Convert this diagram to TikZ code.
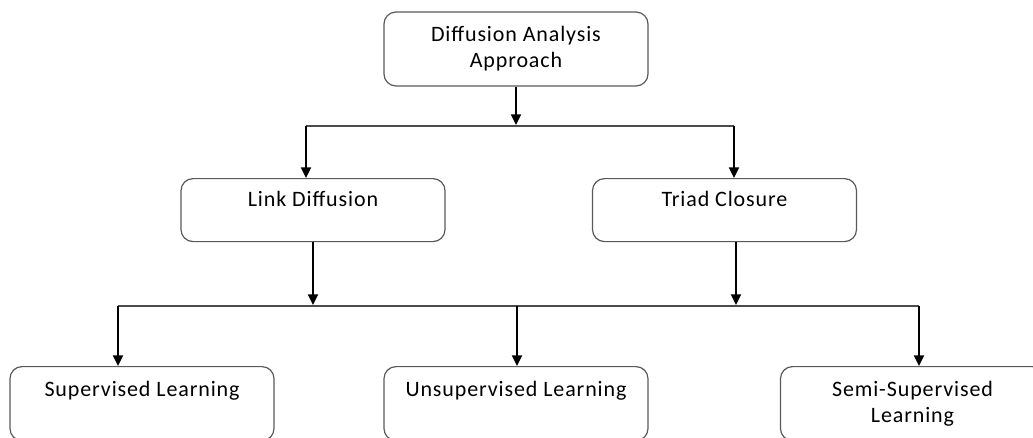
\documentclass[tikz,border=0pt]{standalone}
\usepackage{fontspec}
\setmainfont{Carlito}[LetterSpace=4]
\usetikzlibrary{arrows.meta}

\begin{document}
\begin{tikzpicture}[x=0.75pt, y=-0.75pt,
  box/.style={draw=black!65, line width=0.9pt, rounded corners=9pt, minimum width=198pt, inner sep=0pt, font=\fontsize{16.5}{19.5}\selectfont},
  midbox/.style={box, text height=21pt, text depth=26.25pt},
  lowbox/.style={box, text height=22.5pt, text depth=33pt},
  bus/.style={draw=black!70, line width=1.1pt},
  arr/.style={black, line width=1.4pt, -{Triangle[width=7.5pt,length=8pt]}}]
\useasboundingbox (0,0) rectangle (1033,437);
\clip (0,0) rectangle (1033,437);

\node[box, align=center, minimum height=55.5pt] (dap) at (516,49) {Diffusion Analysis\\Approach};
\node[midbox, anchor=north] (ld) at (313,178) {Link Diffusion};
\node[midbox, anchor=north] (tc) at (724.5,178) {Triad Closure};
\node[lowbox, anchor=north] (sl) at (142,366) {Supervised Learning};
\node[lowbox, anchor=north] (ul) at (516,366) {Unsupervised Learning};
\node[box, align=center, minimum height=55.5pt, anchor=north] (ssl) at (912.5,366) {Semi-Supervised\\Learning};

\coordinate (b1l) at (306,126);
\coordinate (b1r) at (734,126);
\coordinate (b2l) at (118,306);
\coordinate (b2m) at (517,306);
\coordinate (b2r) at (919,306);

% first level
\draw[arr] (dap.south) -- ([yshift=0.8pt]dap.south |- b1l);
\draw[bus] (b1l) -- (b1r);
\draw[arr] (b1l) -- (b1l |- ld.north);
\draw[arr] (b1r) -- (b1r |- tc.north);

% second level
\draw[arr] (ld.south) -- ([yshift=0.8pt]ld.south |- b2l);
\draw[arr] ([xshift=8.6pt]tc.south) -- ([xshift=8.6pt,yshift=0.8pt]tc.south |- b2l);
\draw[bus] (b2l) -- (b2r);
\draw[arr] (b2l) -- (b2l |- sl.north);
\draw[arr] (b2m) -- (b2m |- ul.north);
\draw[arr] (b2r) -- (b2r |- ssl.north);
\end{tikzpicture}
\end{document}
